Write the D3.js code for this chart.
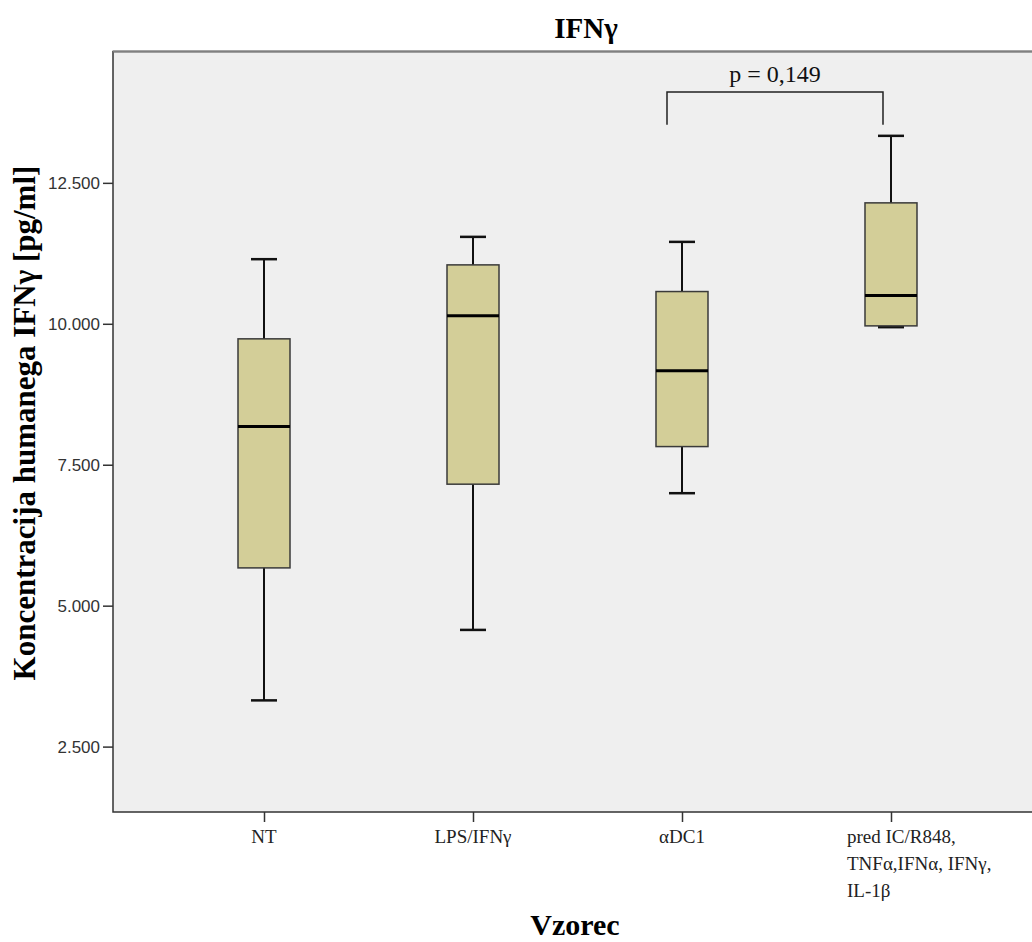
<!DOCTYPE html>
<html>
<head>
<meta charset="utf-8">
<script src="https://cdnjs.cloudflare.com/ajax/libs/d3/7.8.5/d3.min.js"></script>
<style>
  body { margin: 0; background: #fff; }
  svg { display: block; }
</style>
</head>
<body>
<div id="chart"></div>
<script>
// box plot data (pg/ml)
var categories = ["NT", "LPS/IFNγ", "αDC1", "pred"];
var catLabels = [["NT"], ["LPS/IFNγ"], ["αDC1"], ["pred IC/R848,", "TNFα,IFNα, IFNγ,", "IL-1β"]];
var whiskerLow = [3320, 4570, 6995, 9940];
var q1 = [5670, 7155, 7822, 9963];
var median = [8177, 10141, 9165, 10500];
var q3 = [9733, 11045, 10572, 12145];
var whiskerHigh = [11146, 11542, 11453, 13334];
var yTicks = [2500, 5000, 7500, 10000, 12500];
var pText = "p = 0,149";

var W = 1032, H = 942;
var plot = {left: 113, top: 51.5, right: 1042, bottom: 812};

var svg = d3.select("#chart").append("svg")
    .attr("width", W)
    .attr("height", H);

var x = d3.scalePoint()
    .domain(categories)
    .range([plot.left, plot.right])
    .padding(0.7225);

var y = d3.scaleLinear()
    .domain([1340, 14830])
    .range([plot.bottom, plot.top]);

// plot background + frame
svg.append("rect")
    .attr("x", plot.left)
    .attr("y", plot.top)
    .attr("width", plot.right - plot.left + 20)
    .attr("height", plot.bottom - plot.top)
    .style("fill", "#efefef")
    .style("stroke", "#333")
    .style("stroke-width", 1.5);
svg.append("line")
    .attr("x1", plot.left).attr("x2", W)
    .attr("y1", plot.top).attr("y2", plot.top)
    .style("stroke", "#808080")
    .style("stroke-width", 2);

// y axis
var yAxis = svg.append("g")
    .attr("transform", "translate(" + plot.left + ",0)")
    .call(d3.axisLeft(y).tickValues(yTicks).tickSize(10).tickPadding(3)
      .tickFormat(function(d) { return d3.format(",.3f")(d / 1000).replace(",", "."); }));
yAxis.select(".domain").remove();
yAxis.selectAll("line").style("stroke", "#333").style("stroke-width", 1.5);
yAxis.selectAll("text")
    .style("font-family", "'Liberation Sans', Arial, sans-serif")
    .style("font-size", "17px")
    .style("fill", "#333");

// x axis
var xAxis = svg.append("g")
    .attr("transform", "translate(0," + plot.bottom + ")")
    .call(d3.axisBottom(x).tickSize(10).tickFormat(""));
xAxis.select(".domain").remove();
xAxis.selectAll("line").style("stroke", "#333").style("stroke-width", 1.5);

var xl = svg.append("g").selectAll("text")
    .data(categories)
    .enter().append("text")
    .attr("text-anchor", function(d, i) { return catLabels[i].length > 1 ? "start" : "middle"; })
    .attr("transform", function(d, i) {
      var dx = catLabels[i].length > 1 ? -44 : 0;
      return "translate(" + (x(d) + dx) + "," + (plot.bottom + 31) + ")";
    })
    .style("font-family", "'Liberation Serif', 'Times New Roman', serif")
    .style("font-size", "19px")
    .style("fill", "#222");
xl.selectAll("tspan")
    .data(function(d, i) { return catLabels[i]; })
    .enter().append("tspan")
    .attr("x", 0)
    .attr("dy", function(d, j) { return j === 0 ? 0 : 27; })
    .text(function(d) { return d; });

// boxes
var boxW = 52, capW = 26;
var g = svg.append("g").selectAll("g")
    .data(categories)
    .enter().append("g");

g.append("line")
    .attr("x1", function(d) { return x(d); })
    .attr("x2", function(d) { return x(d); })
    .attr("y1", function(d, i) { return y(whiskerHigh[i]); })
    .attr("y2", function(d, i) { return y(whiskerLow[i]); })
    .style("stroke", "#111")
    .style("stroke-width", 2);

g.selectAll(".cap")
    .data(function(d, i) { return [whiskerLow[i], whiskerHigh[i]].map(function(v) { return {c: d, v: v}; }); })
    .enter().append("line")
    .attr("class", "cap")
    .attr("x1", function(d) { return x(d.c) - capW / 2; })
    .attr("x2", function(d) { return x(d.c) + capW / 2; })
    .attr("y1", function(d) { return y(d.v); })
    .attr("y2", function(d) { return y(d.v); })
    .style("stroke", "#111")
    .style("stroke-width", 2.5);

g.append("rect")
    .attr("x", function(d) { return x(d) - boxW / 2; })
    .attr("y", function(d, i) { return y(q3[i]); })
    .attr("width", boxW)
    .attr("height", function(d, i) { return y(q1[i]) - y(q3[i]); })
    .style("fill", "#d3ce98")
    .style("stroke", "#3a3a3a")
    .style("stroke-width", 1.5);

g.append("line")
    .attr("x1", function(d) { return x(d) - boxW / 2; })
    .attr("x2", function(d) { return x(d) + boxW / 2; })
    .attr("y1", function(d, i) { return y(median[i]); })
    .attr("y2", function(d, i) { return y(median[i]); })
    .style("stroke", "#000")
    .style("stroke-width", 3);

// significance bracket between aDC1 and the last group
var bx1 = x(categories[2]) - 15, bx2 = x(categories[3]) - 8;
var byTop = y(14110), byBot = y(13530);
svg.append("path")
    .attr("d", "M" + bx1 + "," + byBot + "V" + byTop + "H" + bx2 + "V" + byBot)
    .style("fill", "none")
    .style("stroke", "#222")
    .style("stroke-width", 1.5);
svg.append("text")
    .attr("x", (bx1 + bx2) / 2)
    .attr("y", byTop - 10)
    .attr("text-anchor", "middle")
    .style("font-family", "'Liberation Serif', 'Times New Roman', serif")
    .style("font-size", "24px")
    .style("fill", "#111")
    .text(pText);

// titles
svg.append("text")
    .attr("x", 586)
    .attr("y", 38)
    .attr("text-anchor", "middle")
    .style("font-family", "'Liberation Serif', 'Times New Roman', serif")
    .style("font-weight", "bold")
    .style("font-size", "29px")
    .text("IFNγ");

svg.append("text")
    .attr("x", 575)
    .attr("y", 935)
    .attr("text-anchor", "middle")
    .style("font-family", "'Liberation Serif', 'Times New Roman', serif")
    .style("font-weight", "bold")
    .style("font-size", "30px")
    .text("Vzorec");

svg.append("text")
    .attr("transform", "translate(35,423) rotate(-90)")
    .attr("text-anchor", "middle")
    .style("font-family", "'Liberation Serif', 'Times New Roman', serif")
    .style("font-weight", "bold")
    .style("font-size", "31px")
    .text("Koncentracija humanega IFNγ [pg/ml]");
</script>
</body>
</html>
